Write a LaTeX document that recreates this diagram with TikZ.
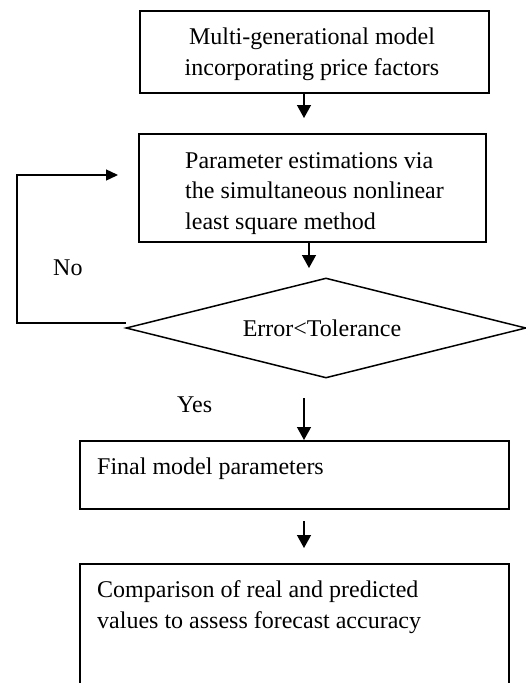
\documentclass[tikz,border=0pt]{standalone}
\usepackage{fontspec}
\setmainfont{Liberation Serif}
\usetikzlibrary{arrows.meta,shapes.geometric}
\begin{document}
\begin{tikzpicture}[x=1pt,y=-1pt,
  box/.style={draw,line width=1.5pt,rectangle,inner sep=0pt,anchor=north west},
  txt/.style={font=\fontsize{24}{30.5}\selectfont,inner sep=0pt},
  arr/.style={line width=1.4pt,-{Triangle[width=14pt,length=13pt]}},
  arrs/.style={line width=1.4pt,-{Triangle[width=11pt,length=12pt]}}]
\useasboundingbox (0,0) rectangle (526,683);
\clip (0,0) rectangle (526,683);
% boxes
\node[box,minimum width=349pt,minimum height=82pt] (b1) at (139,10) {};
\node[box,minimum width=347pt,minimum height=108pt] (b2) at (138,133) {};
\node[box,minimum width=429pt,minimum height=68pt] (b3) at (79,440) {};
\node[box,minimum width=429pt,minimum height=160pt] (b4) at (79,563) {};
\node[draw,diamond,line width=1.5pt,minimum width=400pt,minimum height=100pt,inner sep=0pt] (d) at (326,328) {};
% texts (multi-line nodes: base = last line)
\node[txt,align=center,anchor=base] (t1) at (312,75) {Multi-generational model\\incorporating price factors};
\node[txt,align=left,anchor=base west] (t2) at (185,229) {Parameter estimations via\\the simultaneous nonlinear\\least square method};
\node[txt,anchor=base west] (t3) at (97,474) {Final model parameters};
\node[txt,align=left,anchor=base west] (t4) at (97,628) {Comparison of real and predicted\\values to assess forecast accuracy};
\node[txt,anchor=base] (te) at (322,336) {Error<Tolerance};
\node[txt,anchor=base west] (tno) at (53,275) {No};
\node[txt,anchor=base west] (tyes) at (177,412) {Yes};
% connectors
\coordinate (a1e) at (304,118);
\draw[arr] (b1.south -| a1e) -- (a1e);
\coordinate (a2e) at (309,268);
\draw[arr] (b2.south -| a2e) -- (a2e);
\coordinate (a3s) at (304,398);
\draw[arr] (a3s) -- (a3s |- b3.north);
\coordinate (a4s) at (304,521);
\coordinate (a4e) at (304,548);
\draw[arr] (a4s) -- (a4e);
\coordinate (fb1) at (126,323);
\coordinate (fb2) at (17,323);
\coordinate (fb3) at (17,175);
\coordinate (fb4) at (118,175);
\draw[arrs] (fb1) -- (fb2) -- (fb3) -- (fb4);
\end{tikzpicture}
\end{document}
